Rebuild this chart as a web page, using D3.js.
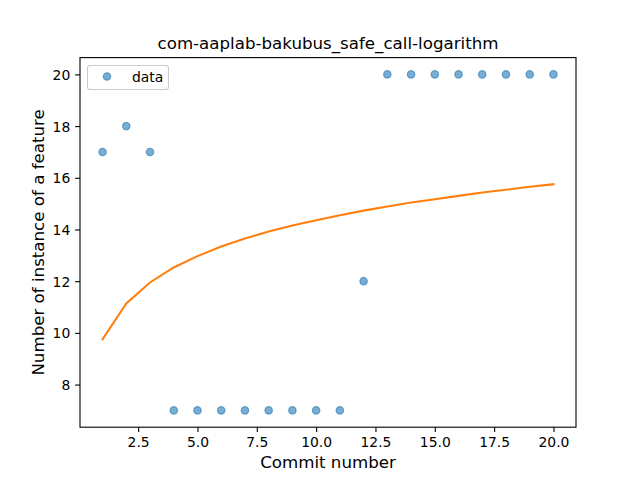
<!DOCTYPE html>
<html><head><meta charset="utf-8">
<script src="https://cdn.jsdelivr.net/npm/d3@7"></script>
<style>body{margin:0;background:#fff}svg{display:block}text{font-family:"DejaVu Sans",sans-serif}</style>
</head><body>
<svg id="c" width="640" height="480"></svg>
<script>
const title = "com-aaplab-bakubus_safe_call-logarithm";
const commits = [1,2,3,4,5,6,7,8,9,10,11,12,13,14,15,16,17,18,19,20];
const counts = [17,18,17,7,7,7,7,7,7,7,7,12,20,20,20,20,20,20,20,20];
const fitValues = [9.75,11.14,11.95,12.53,12.97,13.34,13.65,13.92,14.15,14.36,14.55,14.73,14.89,15.04,15.17,15.30,15.43,15.54,15.65,15.75];
const xTicks = [2.5,5.0,7.5,10.0,12.5,15.0,17.5,20.0];
const yTicks = [8,10,12,14,16,18,20];

const svg = d3.select("#c");
const L=80,R=576,T=57.6,B=427.2;
const x = d3.scaleLinear().domain([0.05,20.95]).range([L,R]);
const y = d3.scaleLinear().domain([6.35,20.65]).range([B,T]);

const xa = svg.append("g").attr("transform",`translate(0,${B})`)
  .call(d3.axisBottom(x).tickValues(xTicks).tickFormat(d3.format(".1f")).tickSizeOuter(0).tickSize(4.86).tickPadding(4.86));
const ya = svg.append("g").attr("transform",`translate(${L},0)`)
  .call(d3.axisLeft(y).tickValues(yTicks).tickFormat(d3.format("d")).tickSizeOuter(0).tickSize(4.86).tickPadding(4.86));
[xa,ya].forEach(a=>{a.select(".domain").remove();a.selectAll("text").attr("font-size",13.9).attr("fill","#000").style("font-family","DejaVu Sans");a.selectAll("line").attr("stroke","#000").attr("stroke-width",1.1);});
xa.selectAll("text").attr("dy","0.71em");
ya.selectAll("text").attr("dy","0.36em");

svg.selectAll("circle.pt").data(commits).enter().append("circle").attr("class","pt")
  .attr("cx",(d)=>x(d)).attr("cy",(d,i)=>y(counts[i])).attr("r",3.7)
  .attr("fill","#1f77b4").attr("fill-opacity",0.6).attr("stroke","#1f77b4").attr("stroke-opacity",0.6).attr("stroke-width",1.2);

const line = d3.line().x((d,i)=>x(commits[i])).y(d=>y(d));
svg.append("path").datum(fitValues).attr("d",line).attr("fill","none").attr("stroke","#ff7f0e").attr("stroke-width",2.08).attr("stroke-linecap","square");

svg.append("rect").attr("x",L).attr("y",T).attr("width",R-L).attr("height",B-T).attr("fill","none").attr("stroke","#000").attr("stroke-width",1.1);

svg.append("text").attr("x",(L+R)/2).attr("y",49).attr("text-anchor","middle").attr("font-size",16.67).text(title);
svg.append("text").attr("x",(L+R)/2).attr("y",468).attr("text-anchor","middle").attr("font-size",16.67).text("Commit number");
svg.append("text").attr("transform",`translate(44,${(T+B)/2}) rotate(-90)`).attr("text-anchor","middle").attr("font-size",16.67).text("Number of instance of a feature");

const lg = svg.append("g");
lg.append("rect").attr("x",87.5).attr("y",65.5).attr("width",81).attr("height",24).attr("rx",2.5)
  .attr("fill","#fff").attr("fill-opacity",0.8).attr("stroke","#ccc").attr("stroke-width",1.1);
lg.append("circle").attr("cx",107).attr("cy",76.5).attr("r",3.7).attr("fill","#1f77b4").attr("fill-opacity",0.6).attr("stroke","#1f77b4").attr("stroke-opacity",0.6).attr("stroke-width",1.2);
lg.append("text").attr("x",132).attr("y",81.5).attr("font-size",13.9).text("data");
</script>
</body></html>
